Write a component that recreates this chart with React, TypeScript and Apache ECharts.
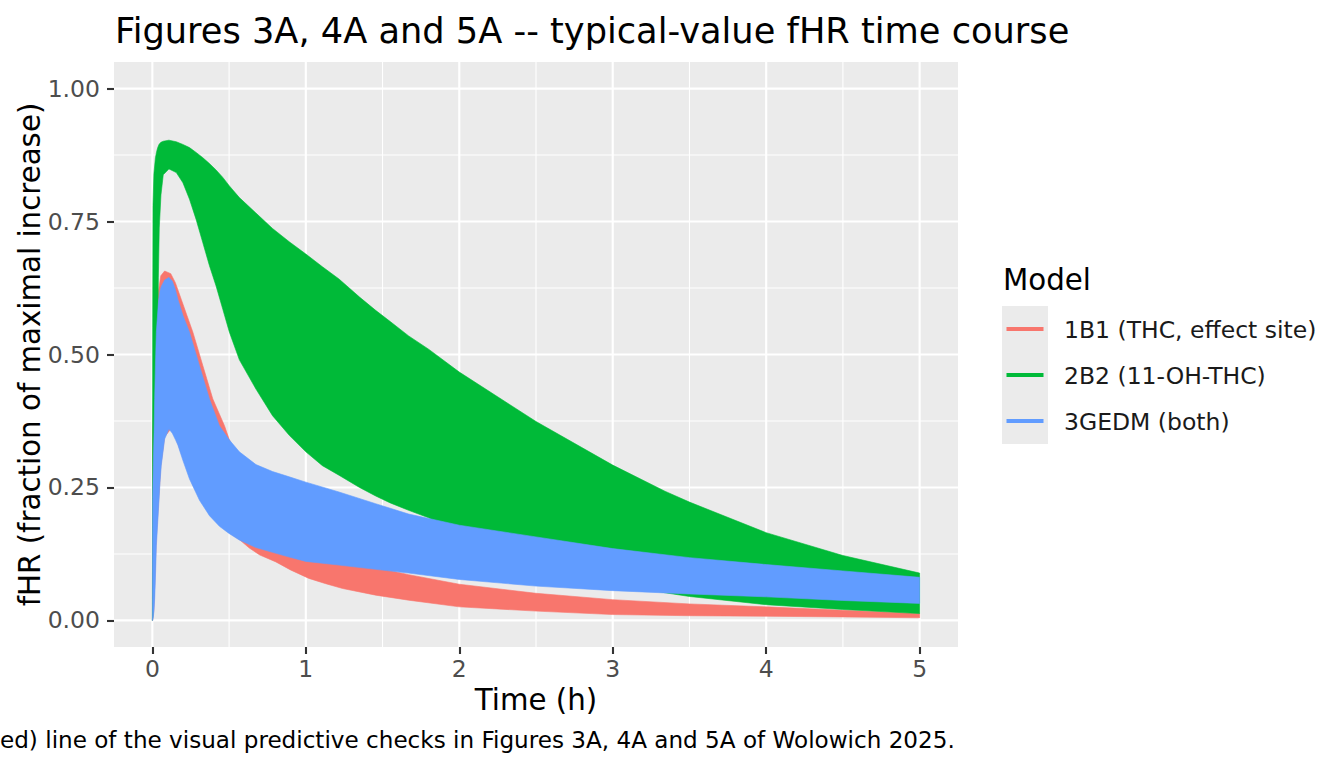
import React, { useEffect, useRef } from "react";
import * as echarts from "echarts";

const FONT = "DejaVu Sans";

const modelNames = ["1B1 (THC, effect site)", "2B2 (11-OH-THC)", "3GEDM (both)"];
const modelColors = ["#F8766D", "#00BA38", "#619CFF"];

// 1B1 (THC, effect site) envelope
const redTime = [0, 0.002, 0.01, 0.025, 0.04, 0.055, 0.08, 0.12, 0.15, 0.188, 0.226, 0.264, 0.329, 0.394, 0.47, 0.5, 0.567, 0.632, 0.7, 0.805, 0.9, 1.02, 1.13, 1.24, 1.455, 1.67, 2, 2.5, 3, 3.5, 4, 4.5, 5];
const redUpper = [0, 0.35, 0.45, 0.56, 0.62, 0.648, 0.657, 0.652, 0.635, 0.604, 0.573, 0.542, 0.479, 0.4165, 0.366, 0.341, 0.3, 0.265, 0.235, 0.2, 0.175, 0.15, 0.133, 0.12, 0.1, 0.086, 0.068, 0.051, 0.039, 0.031, 0.0255, 0.019, 0.013];
const redLower = [0, 0, 0.02, 0.15, 0.22, 0.29, 0.345, 0.36, 0.345, 0.315, 0.285, 0.255, 0.22, 0.195, 0.172, 0.165, 0.152, 0.136, 0.123, 0.11, 0.095, 0.079, 0.069, 0.06, 0.0475, 0.038, 0.0255, 0.0175, 0.011, 0.0088, 0.0078, 0.0065, 0.005];

// 2B2 (11-OH-THC) envelope
const greenTime = [0, 0.002, 0.004, 0.01, 0.02, 0.026, 0.03, 0.035, 0.039, 0.045, 0.056, 0.071, 0.108, 0.156, 0.199, 0.242, 0.285, 0.329, 0.372, 0.415, 0.459, 0.502, 0.567, 0.675, 0.783, 0.892, 1.0, 1.108, 1.216, 1.35, 1.455, 1.55, 1.67, 1.8, 2, 2.5, 3, 3.34, 3.5, 4, 4.5, 5];
const greenUpper = [0, 0.55, 0.78, 0.84, 0.87, 0.879, 0.884, 0.889, 0.892, 0.896, 0.899, 0.901, 0.903, 0.9, 0.895, 0.889, 0.88, 0.87, 0.859, 0.847, 0.833, 0.817, 0.795, 0.766, 0.737, 0.712, 0.689, 0.665, 0.642, 0.608, 0.583, 0.562, 0.535, 0.51, 0.467, 0.374, 0.292, 0.243, 0.2225, 0.165, 0.122, 0.089];
const greenLower = [0, 0.005, 0.01, 0.05, 0.15, 0.25, 0.35, 0.52, 0.644, 0.738, 0.8, 0.838, 0.849, 0.842, 0.823, 0.792, 0.754, 0.71, 0.667, 0.629, 0.585, 0.542, 0.49, 0.435, 0.385, 0.348, 0.317, 0.291, 0.273, 0.25, 0.234, 0.221, 0.207, 0.193, 0.16, 0.11, 0.072, 0.052, 0.045, 0.0295, 0.0206, 0.0128];

// 3GEDM (both) envelope
const blueTime = [0, 0.002, 0.006, 0.011, 0.015, 0.02, 0.026, 0.04, 0.05, 0.058, 0.08, 0.108, 0.13, 0.15, 0.166, 0.2, 0.242, 0.307, 0.372, 0.437, 0.497, 0.567, 0.675, 0.783, 0.892, 1.0, 1.216, 1.455, 1.67, 2, 2.5, 3, 3.5, 4, 4.5, 5];
const blueUpper = [0, 0.229, 0.292, 0.354, 0.417, 0.48, 0.542, 0.6, 0.62, 0.628, 0.64, 0.645, 0.638, 0.622, 0.604, 0.573, 0.542, 0.479, 0.4165, 0.366, 0.341, 0.317, 0.293, 0.28, 0.27, 0.26, 0.2415, 0.2195, 0.2, 0.179, 0.157, 0.135, 0.118, 0.105, 0.093, 0.081];
const blueLower = [0, 0, 0.005, 0.02, 0.04, 0.08, 0.14, 0.21, 0.26, 0.291, 0.341, 0.36, 0.352, 0.34, 0.33, 0.3, 0.266, 0.226, 0.197, 0.177, 0.164, 0.151, 0.137, 0.128, 0.119, 0.111, 0.104, 0.096, 0.089, 0.077, 0.0645, 0.056, 0.0497, 0.0443, 0.0375, 0.032];

const xTicks = [0, 1, 2, 3, 4, 5];
const xMinor = [0.5, 1.5, 2.5, 3.5, 4.5];
const yTicks = [0, 0.25, 0.5, 0.75, 1];
const yMinor = [0.125, 0.375, 0.625, 0.875];

const titleText = "Figures 3A, 4A and 5A -- typical-value fHR time course";
const xTitle = "Time (h)";
const yTitle = "fHR (fraction of maximal increase)";
const legendTitle = "Model";
const captionText = "ed) line of the visual predictive checks in Figures 3A, 4A and 5A of Wolowich 2025.";

const bands = [
  { time: redTime, upper: redUpper, lower: redLower },
  { time: greenTime, upper: greenUpper, lower: greenLower },
  { time: blueTime, upper: blueUpper, lower: blueLower },
];

function bandSeries(idx: number) {
  const b = bands[idx];
  const rows = b.time.map((t, i) => [t, b.upper[i], b.lower[i]]);
  return {
    type: "custom",
    name: modelNames[idx],
    z: 2 + idx,
    silent: true,
    data: rows,
    encode: { x: 0, y: [1, 2] },
    renderItem: (params: any, api: any) => {
      if (params.dataIndex !== 0) return null;
      const pts: number[][] = [];
      for (let i = 0; i < rows.length; i++) pts.push(api.coord([rows[i][0], rows[i][1]]));
      for (let i = rows.length - 1; i >= 0; i--) pts.push(api.coord([rows[i][0], rows[i][2]]));
      return {
        type: "polygon",
        shape: { points: pts },
        style: { fill: modelColors[idx], stroke: modelColors[idx], lineWidth: 0.6 },
      };
    },
  };
}

function gridSeries(values: number[], horizontal: boolean, width: number) {
  return {
    type: "custom",
    z: 1,
    silent: true,
    data: values.map((v) => (horizontal ? [0, v] : [v, 0])),
    encode: { x: 0, y: 1 },
    renderItem: (params: any, api: any) => {
      const cs = params.coordSys;
      if (horizontal) {
        const y = api.coord([0, api.value(1)])[1];
        return { type: "line", shape: { x1: cs.x, y1: y, x2: cs.x + cs.width, y2: y }, style: { stroke: "#FFFFFF", lineWidth: width } };
      }
      const x = api.coord([api.value(0), 0])[0];
      return { type: "line", shape: { x1: x, y1: cs.y, x2: x, y2: cs.y + cs.height }, style: { stroke: "#FFFFFF", lineWidth: width } };
    },
  };
}

export default function App() {
  const ref = useRef<HTMLDivElement>(null);
  useEffect(() => {
    document.body.style.margin = "0";
    if (!ref.current) return;
    const chart = echarts.init(ref.current, undefined, { renderer: "svg" });
    const gridLeft = 114, gridTop = 62, gridW = 844, gridH = 585;
    const legendX = 1002, legendKeyTop = 306, keyH = 46;
    const legendGraphics: any[] = [
      { type: "text", x: 1003, y: 280, style: { text: legendTitle, font: `29.3px '${FONT}'`, fill: "#000000", verticalAlign: "middle", align: "left" } },
    ];
    modelNames.forEach((name, i) => {
      const cy = legendKeyTop + keyH * i + keyH / 2;
      legendGraphics.push({ type: "rect", shape: { x: legendX, y: legendKeyTop + keyH * i, width: 46, height: keyH }, style: { fill: "#EBEBEB" } });
      legendGraphics.push({ type: "line", shape: { x1: legendX + 4.5, y1: cy, x2: legendX + 41.5, y2: cy }, style: { stroke: modelColors[i], lineWidth: 3.8 } });
      legendGraphics.push({ type: "text", x: 1064, y: cy + 1, style: { text: name, font: `23.5px '${FONT}'`, fill: "#1A1A1A", verticalAlign: "middle", align: "left" } });
    });
    const option: any = {
      animation: false,
      backgroundColor: "#FFFFFF",
      grid: { left: gridLeft, top: gridTop, width: gridW, height: gridH, show: true, backgroundColor: "#EBEBEB", borderWidth: 0 },
      xAxis: {
        type: "value",
        min: -0.25,
        max: 5.25,
        axisLine: { show: false, onZero: false },
        splitLine: { show: false },
        axisTick: { show: true, customValues: xTicks, length: 7, lineStyle: { color: "#333333", width: 2.1 } },
        axisLabel: { customValues: xTicks, color: "#4D4D4D", fontSize: 23.5, fontFamily: FONT, margin: 10, formatter: (v: number) => String(v) },
      },
      yAxis: {
        type: "value",
        min: -0.05,
        max: 1.05,
        axisLine: { show: false, onZero: false },
        splitLine: { show: false },
        axisTick: { show: true, customValues: yTicks, length: 7, lineStyle: { color: "#333333", width: 2.1 } },
        axisLabel: { customValues: yTicks, color: "#4D4D4D", fontSize: 23.5, fontFamily: FONT, margin: 14, formatter: (v: number) => v.toFixed(2) },
      },
      graphic: [
        { type: "text", x: 115, y: 30, style: { text: titleText, font: `35.2px '${FONT}'`, fill: "#000000", verticalAlign: "middle" } },
        { type: "text", x: gridLeft + gridW / 2, y: 700, style: { text: xTitle, font: `29.3px '${FONT}'`, fill: "#000000", align: "center", verticalAlign: "middle" } },
        { type: "text", x: 30, y: gridTop + gridH / 2, rotation: Math.PI / 2, style: { text: yTitle, font: `29.3px '${FONT}'`, fill: "#000000", align: "center", verticalAlign: "middle" } },
        { type: "text", x: 0, y: 740, style: { text: captionText, font: `23.1px '${FONT}'`, fill: "#000000", align: "left", verticalAlign: "middle" } },
        ...legendGraphics,
      ],
      series: [
        gridSeries(yMinor, true, 1.07),
        gridSeries(xMinor, false, 1.07),
        gridSeries(yTicks, true, 2.13),
        gridSeries(xTicks, false, 2.13),
        bandSeries(0),
        bandSeries(1),
        bandSeries(2),
      ],
    };
    chart.setOption(option);
    return () => chart.dispose();
  }, []);
  return <div ref={ref} style={{ width: 1344, height: 768 }} />;
}
